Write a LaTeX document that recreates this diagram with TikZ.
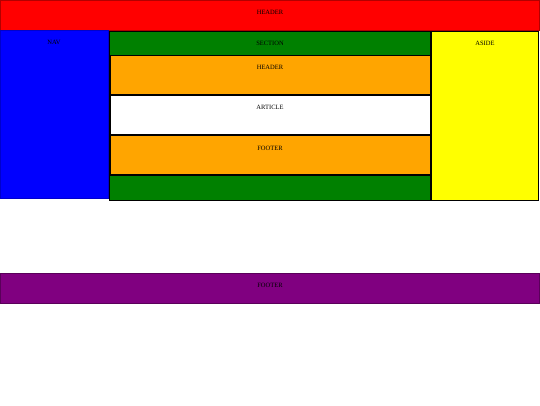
\documentclass[tikz,border=0pt]{standalone}
\usepackage{fontspec}
\setmainfont{Liberation Serif}
\definecolor{hred}{RGB}{255,0,0}
\definecolor{hblue}{RGB}{0,0,255}
\definecolor{hgreen}{RGB}{0,128,0}
\definecolor{horange}{RGB}{255,165,0}
\definecolor{hyellow}{RGB}{255,255,0}
\definecolor{hpurple}{RGB}{128,0,128}
\begin{document}
\begin{tikzpicture}[x=1pt,y=-1pt,
  box/.style={rectangle, anchor=north west, inner sep=0pt, outer sep=0pt},
  lbl/.style={font=\fontsize{6.5}{7}\selectfont, text=black, inner sep=0pt}]
\useasboundingbox (0,0) rectangle (540,405);
% page header
\node[box, fill=hred, draw=hred!70!black, line width=0.8pt, minimum width=539pt, minimum height=29.5pt] (hdr) at (0.4,0.4) {};
\node[lbl] (hdrt) at (270,12.5) {HEADER};
% nav
\node[box, fill=hblue, draw=hblue!80!black, line width=0.6pt, minimum width=108pt, minimum height=168.5pt] (nav) at (0.3,30.2) {};
\node[lbl] (navt) at (54,42.5) {NAV};
% section
\node[box, fill=hgreen, draw=black, line width=1.6pt, minimum width=321pt, minimum height=169pt] (sec) at (109.5,31.5) {};
\node[lbl] (sect) at (270,43.5) {SECTION};
% inner header
\node[box, fill=horange, draw=black, line width=1.4pt, minimum width=320pt, minimum height=39.5pt] (ih) at (110.5,55.5) {};
\node[lbl] (iht) at (270,67.5) {HEADER};
% article
\node[box, fill=white, draw=black, line width=1.4pt, minimum width=320pt, minimum height=40pt] (art) at (110.5,95) {};
\node[lbl] (artt) at (270,107.5) {ARTICLE};
% inner footer
\node[box, fill=horange, draw=black, line width=1.4pt, minimum width=320pt, minimum height=40pt] (ift) at (110.5,135) {};
\node[lbl] (iftt) at (270,148.5) {FOOTER};
% aside
\node[box, fill=hyellow, draw=black, line width=1.6pt, minimum width=107.5pt, minimum height=169pt] (asd) at (431,31.5) {};
\node[lbl] (asdt) at (485,43.5) {ASIDE};
% page footer
\node[box, fill=hpurple, draw=hpurple!70!black, line width=0.8pt, minimum width=539pt, minimum height=29.5pt] (ftr) at (0.4,273.4) {};
\node[lbl] (ftrt) at (270,285.5) {FOOTER};
\end{tikzpicture}
\end{document}
